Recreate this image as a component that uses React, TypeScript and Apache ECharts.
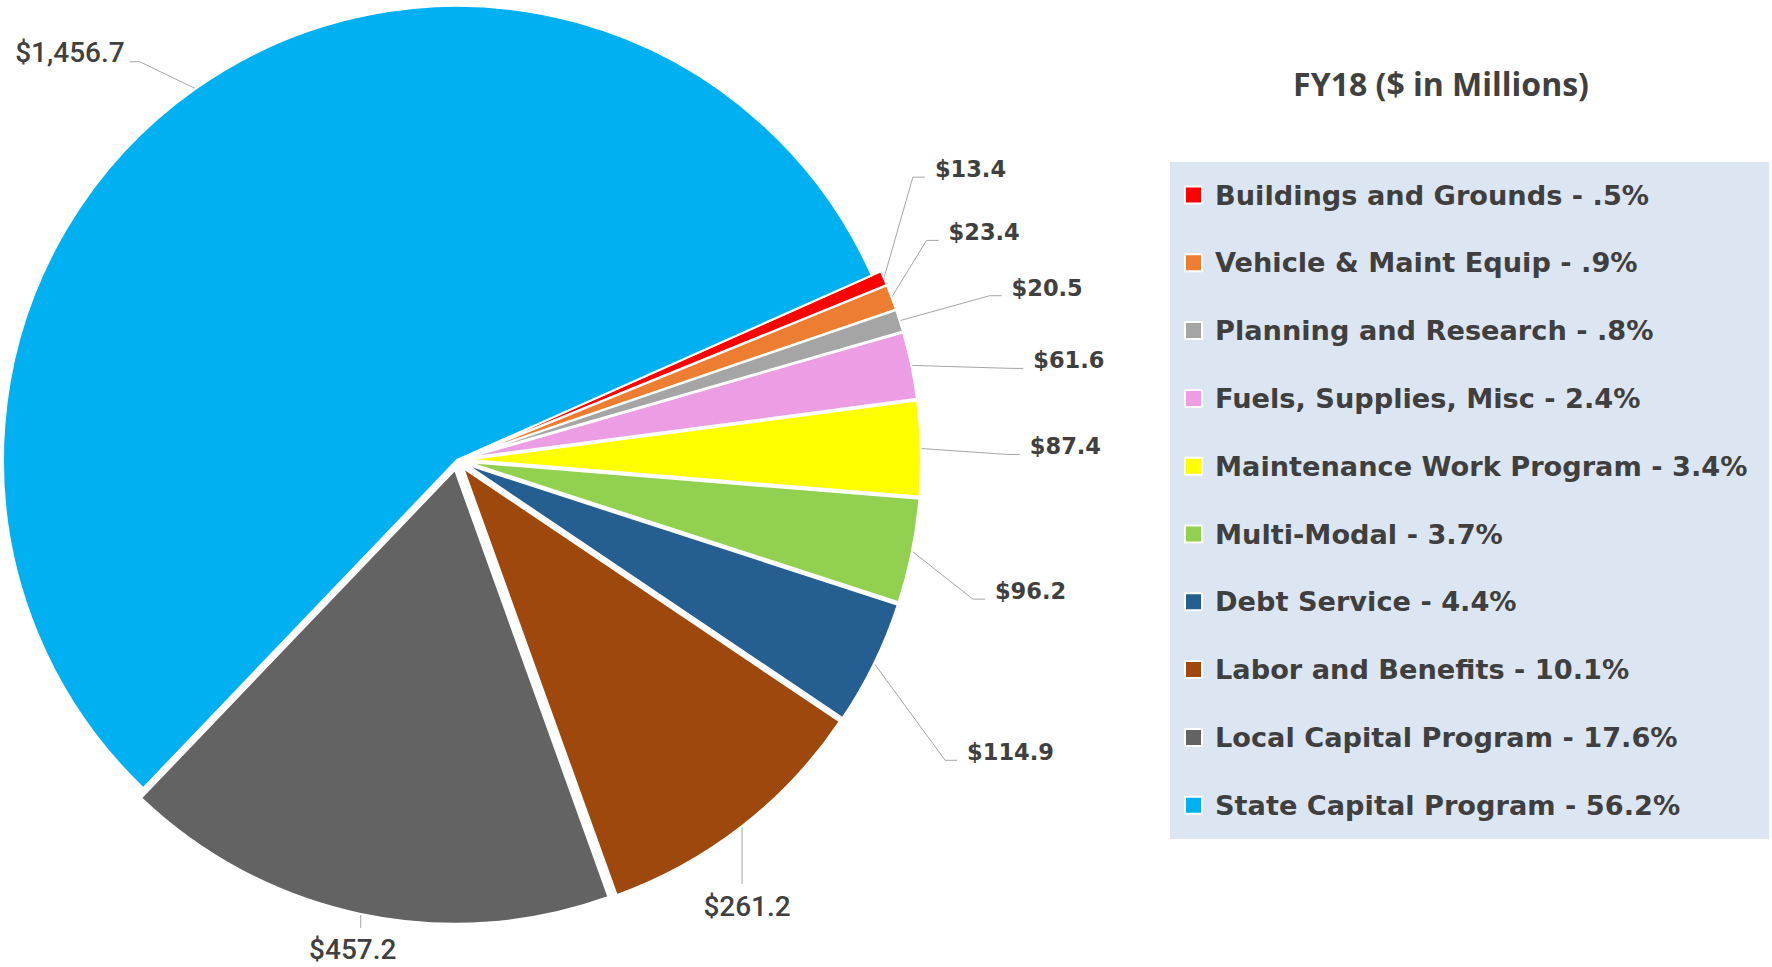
import React, { useEffect, useRef } from "react";
import * as echarts from "echarts";

const categories = [
  "Buildings and Grounds",
  "Vehicle & Maint Equip",
  "Planning and Research",
  "Fuels, Supplies, Misc",
  "Maintenance Work Program",
  "Multi-Modal",
  "Debt Service",
  "Labor and Benefits",
  "Local Capital Program",
  "State Capital Program",
];
const values = [13.4, 23.4, 20.5, 61.6, 87.4, 96.2, 114.9, 261.2, 457.2, 1456.7];
const shareLabels = [".5%", ".9%", ".8%", "2.4%", "3.4%", "3.7%", "4.4%", "10.1%", "17.6%", "56.2%"];
const colors = [
  "#ff0000",
  "#ed7d31",
  "#a5a5a5",
  "#ec9de3",
  "#ffff00",
  "#92d050",
  "#255e91",
  "#9e480e",
  "#636363",
  "#00b0f0",
];
const titleText = "FY18 ($ in Millions)";

// ---- layout settings (not data) ----
const PIE_CX = 457;
const PIE_CY = 460;
const PIE_R = 454;
const EXPLODE = 10;
const exploded = [true, true, true, true, true, true, true, true, true, false];
const labelMode = ["right", "right", "right", "right", "right", "right", "right", "below", "below", "left"];
// label anchor offset from the slice's outer tip
const labelShift: number[][] = [
  [51, -109],
  [57, -65],
  [112, -33],
  [122, -5],
  [109, -2],
  [83, 40],
  [93, 89],
  [5, 66],
  [-8, 22],
  [-71, -36],
];
const condensedLabel = [false, false, false, false, false, false, false, true, true, true];

export default function App() {
  const ref = useRef<HTMLDivElement>(null);
  useEffect(() => {
    if (!ref.current) return;
    const chart = echarts.init(ref.current, undefined, { renderer: "svg" });
    const fmt = (v: number) =>
      "$" + v.toLocaleString("en-US", { minimumFractionDigits: 1, maximumFractionDigits: 1 });

    const sliceData = categories.map((name, i) => ({
      name,
      value: values[i],
      selected: exploded[i],
      itemStyle: { color: colors[i] },
    }));
    const labelData = categories.map((name, i) => ({
      name,
      value: values[i],
      label: condensedLabel[i]
        ? { fontFamily: "Roboto", fontSize: 28, fontWeight: 500 }
        : { fontFamily: "DejaVu Sans", fontSize: 22.5, fontWeight: "bold" },
    }));

    const common = {
      type: "pie",
      center: [PIE_CX, PIE_CY],
      radius: PIE_R,
      startAngle: 24,
      clockwise: true,
    };

    chart.setOption({
      animation: false,
      backgroundColor: "#ffffff",
      graphic: [
        {
          type: "rect",
          shape: { x: 1170, y: 162, width: 599, height: 677 },
          style: { fill: "#dce6f2" },
          z: 0,
        },
        {
          type: "text",
          x: 1441,
          y: 83,
          style: {
            text: titleText,
            textAlign: "center",
            textVerticalAlign: "middle",
            font: "bold 32px 'Open Sans'",
            fill: "#404040",
          },
        },
      ],
      legend: {
        orient: "vertical",
        left: 1184,
        top: 180,
        padding: 0,
        itemWidth: 17,
        itemHeight: 17,
        itemGap: 37.8,
        icon: "rect",
        selectedMode: false,
        formatter: (name: string) => name + " - " + shareLabels[categories.indexOf(name)],
        textStyle: {
          fontFamily: "DejaVu Sans",
          fontWeight: "bold",
          fontSize: 27.2,
          lineHeight: 30,
          color: "#3f3f3f",
          padding: [0, 0, 0, 8],
        },
        data: categories,
      },
      series: [
        {
          ...common,
          name: "slices",
          selectedMode: "multiple",
          selectedOffset: EXPLODE,
          itemStyle: { borderColor: "#ffffff", borderWidth: 2 },
          select: { itemStyle: { borderColor: "#ffffff", borderWidth: 2 } },
          emphasis: { disabled: true },
          label: { show: false },
          labelLine: { show: false },
          data: sliceData,
        },
        {
          ...common,
          name: "labels",
          silent: true,
          legendHoverLink: false,
          avoidLabelOverlap: false,
          itemStyle: { color: "rgba(0,0,0,0)", borderWidth: 0 },
          emphasis: { disabled: true },
          label: {
            show: true,
            position: "outside",
            color: "#404040",
            formatter: (p: any) => fmt(p.value),
          },
          labelLine: {
            show: true,
            length: 20,
            length2: 10,
            lineStyle: { color: "#a6a6a6", width: 1 },
          },
          labelLayout: (p: any) => {
            const pts = p.labelLinePoints;
            const i = p.dataIndex;
            if (!pts) return {};
            const [x0, y0] = pts[0];
            const ux = x0 - PIE_CX;
            const uy = y0 - PIE_CY;
            const len = Math.sqrt(ux * ux + uy * uy) || 1;
            const off = exploded[i] ? EXPLODE : 0;
            const tx = x0 + (ux / len) * off;
            const ty = y0 + (uy / len) * off;
            const ax = tx + labelShift[i][0];
            const ay = ty + labelShift[i][1];
            const mode = labelMode[i];
            if (mode === "below") {
              return {
                x: ax,
                y: ay,
                align: "center",
                verticalAlign: "top",
                labelLinePoints: [
                  [tx, ty],
                  [tx, ay - 8],
                ],
              };
            }
            if (mode === "left") {
              return {
                x: ax,
                y: ay,
                align: "right",
                verticalAlign: "middle",
                labelLinePoints: [
                  [tx, ty],
                  [ax + 15, ay + 9],
                  [ax + 5, ay + 9],
                ],
              };
            }
            return {
              x: ax,
              y: ay,
              align: "left",
              verticalAlign: "middle",
              labelLinePoints: [
                [tx, ty],
                [ax - 22, ay + 8],
                [ax - 10, ay + 8],
              ],
            };
          },
          data: labelData,
        },
      ],
    });
    return () => chart.dispose();
  }, []);
  return (
    <div style={{ position: "fixed", left: 0, top: 0, width: 1772, height: 967 }}>
      <div ref={ref} style={{ width: 1772, height: 967 }} />
    </div>
  );
}
